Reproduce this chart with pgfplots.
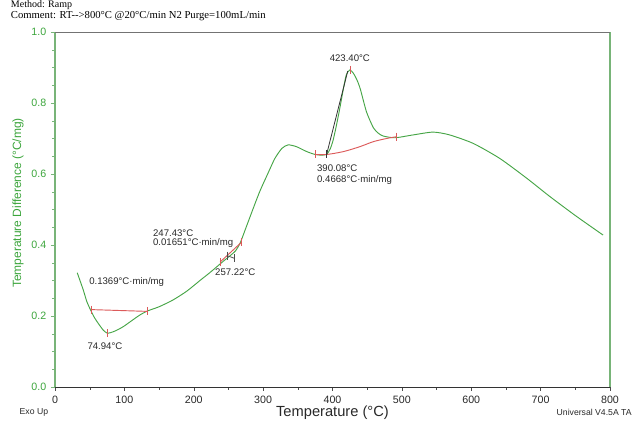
\documentclass[border=0pt]{standalone}
\usepackage{pgfplots}
\pgfplotsset{compat=1.18}
\usepackage{fontspec}
\setmainfont{Liberation Sans}
\newfontfamily\seriffont{Liberation Serif}
\definecolor{curvegreen}{RGB}{70,165,70}
\definecolor{labgreen}{RGB}{60,165,60}
\definecolor{framegreen}{RGB}{120,180,120}
\definecolor{basered}{RGB}{220,90,90}
\definecolor{txt}{RGB}{40,40,40}
\begin{document}
\begin{tikzpicture}
\useasboundingbox (-41.25pt,-27pt) rectangle (433.5pt,290.25pt);
\begin{axis}[
  at={(0,0)}, anchor=south west,
  width=416.25pt, height=266.25pt, scale only axis,
  xmin=0, xmax=800, ymin=0, ymax=1,
  xtick={0,100,...,800}, ytick={0,0.2,0.4,0.6,0.8,1.0},
  minor x tick num=1, minor y tick num=3,
  tick align=outside, major tick length=3pt, minor tick length=2pt,
  tick pos=left,
  axis line style={draw=none},
  xtick style={black!70},
  ytick style={framegreen},
  x tick label style={text=txt},
  y tick label style={text=labgreen, /pgf/number format/.cd, fixed, fixed zerofill, precision=1},
  tick label style={font=\fontsize{8}{9}\selectfont},
  /pgf/number format/assume math mode=true,
  clip=false,
]
% main DSC curve
\addplot[curvegreen, line width=0.7pt, smooth, tension=0.4] coordinates {
(32,0.322) (36,0.300) (40.8,0.273) (46,0.240) (52,0.214) (57,0.195) (62.4,0.179)
(69.6,0.160) (75,0.152) (80,0.153) (87,0.158) (94,0.165) (100,0.172) (110,0.186)
(122.5,0.203) (133,0.214) (150,0.226) (170,0.245) (190,0.270) (209,0.300) (225,0.325)
(240,0.350) (250,0.366) (260,0.383) (267,0.406) (274,0.442) (283,0.489) (295,0.550)
(307,0.602) (317,0.644) (327,0.672) (336,0.682) (348,0.677) (363,0.663) (375,0.655)
(385,0.653) (392,0.656) (397,0.672) (401,0.696) (406,0.740) (411,0.790) (416,0.843)
(420,0.880) (425,0.893) (430,0.884) (435,0.866) (440,0.840) (449,0.775) (459,0.730)
(466,0.715) (473,0.707) (490,0.702) (516,0.710) (545,0.718) (569,0.710) (603,0.686)
(641,0.644) (680,0.588) (713,0.537) (750,0.483) (790,0.428)
};
% baselines
\addplot[basered, line width=0.7pt, mark=|, mark size=3pt, mark options={basered}] coordinates {(52,0.218) (133,0.213)};
\addplot[only marks, mark=|, mark size=3pt, basered] coordinates {(75,0.152) (425,0.893)};
\addplot[basered, line width=0.7pt, mark=|, mark size=3pt] coordinates {(238,0.352) (269,0.408)};
\addplot[black!70, line width=0.6pt, mark=|, mark size=3pt] coordinates {(248,0.370) (258,0.363)};
\addplot[basered, line width=0.7pt, smooth] coordinates {(374.6,0.655) (391.5,0.655) (415.5,0.663) (439.5,0.677) (458.7,0.691) (478,0.700) (492,0.705)};
\addplot[only marks, mark=|, mark size=3pt, basered] coordinates {(374.6,0.655) (492,0.705)};
\addplot[black!80, line width=0.6pt, mark=|, mark size=3pt, mark repeat=2] coordinates {(391.5,0.655) (422,0.89)};
% frame
\draw[framegreen, line width=0.8pt] (rel axis cs:0,0) -- (rel axis cs:0,1);
\draw[framegreen, line width=0.8pt] (rel axis cs:1,0) -- (rel axis cs:1,1);
\draw[black!55, line width=0.6pt] (rel axis cs:0,1) -- (rel axis cs:1,1);
\draw[black!80, line width=0.6pt] (rel axis cs:0,0) -- (rel axis cs:1,0);
% annotations
\begin{scope}[every node/.style={font=\fontsize{7.2}{8.5}\selectfont, text=txt, inner sep=0pt}]
\node[anchor=center] at (axis cs:425,0.927) {423.40°C};
\node[anchor=west] at (axis cs:377.5,0.617) {390.08°C};
\node[anchor=west] at (axis cs:377.5,0.583) {0.4668°C·min/mg};
\node[anchor=west] at (axis cs:141,0.434) {247.43°C};
\node[anchor=west] at (axis cs:141,0.406) {0.01651°C·min/mg};
\node[anchor=west] at (axis cs:230.5,0.324) {257.22°C};
\node[anchor=west] at (axis cs:49,0.296) {0.1369°C·min/mg};
\node[anchor=center] at (axis cs:72,0.115) {74.94°C};
\end{scope}
\end{axis}
\node[rotate=90, text=labgreen, font=\fontsize{9}{10}\selectfont] at (-27.75pt,138pt) {Temperature Difference (°C/mg)};
\node[text=txt, font=\fontsize{11}{12}\selectfont] at (208.1pt,-19.5pt) {Temperature (°C)};
\node[anchor=west, text=txt, font=\fontsize{6.5}{7}\selectfont] at (-30pt,-18.75pt) {Exo Up};
\node[anchor=east, text=txt, font=\fontsize{6.5}{7}\selectfont, inner sep=0.5pt] at (433.2pt,-18.75pt) {Universal V4.5A TA};
\node[anchor=west, text=black, font=\seriffont\fontsize{8}{9}\selectfont, inner sep=0.5pt] at (-33.75pt,278.5pt) {Comment: RT-->800°C @20°C/min N2 Purge=100mL/min};
\node[anchor=north west, text=black, font=\seriffont\fontsize{7.5}{8}\selectfont, inner sep=0.5pt] at (-33.75pt,290.25pt) {Method: Ramp};
\end{tikzpicture}
\end{document}
